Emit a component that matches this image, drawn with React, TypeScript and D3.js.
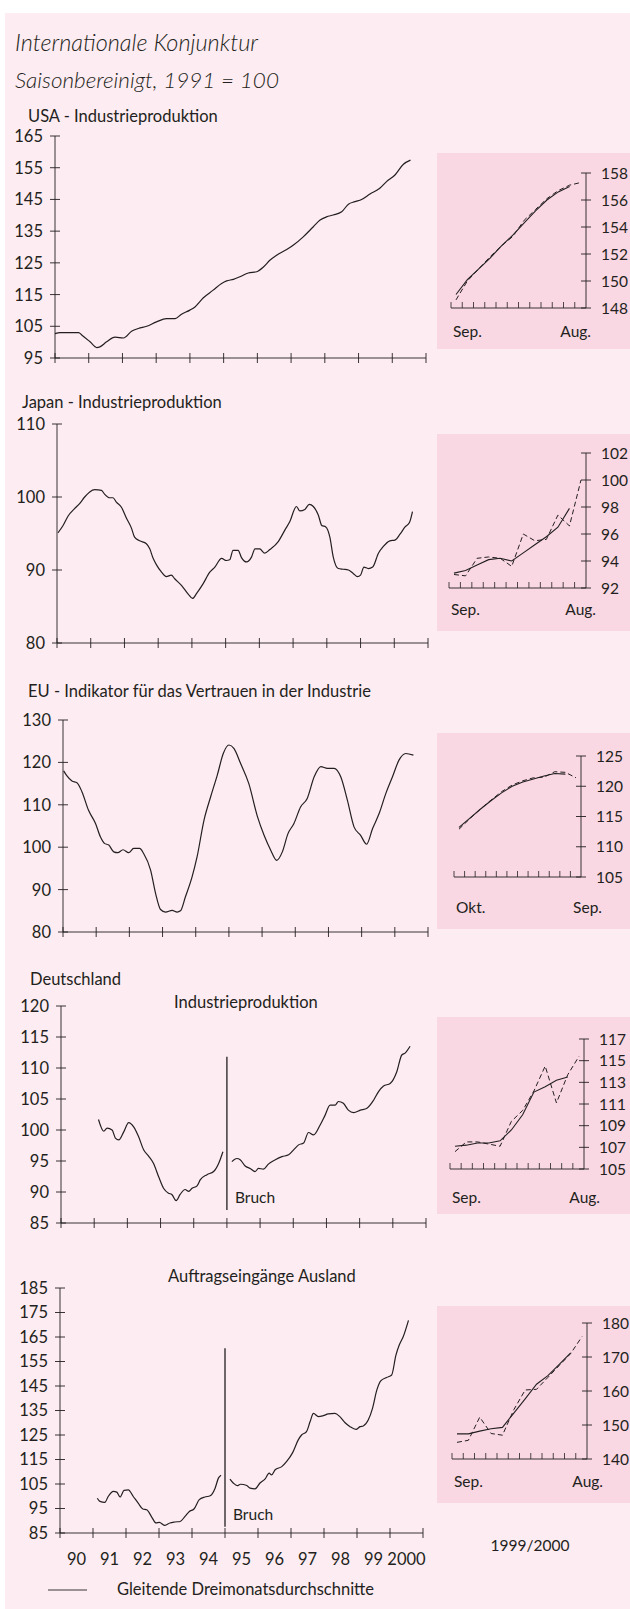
import { curveMonotoneX, line, range, scaleLinear } from 'd3'

type Point = [number, number]

// main panels: [decimal year, index value]
const usaIndustry: Point[] = [
  [1990.0, 102.7], [1990.15, 103.0], [1990.7, 103.0], [1990.8, 102.2], [1991.04, 100.1],
  [1991.24, 98.3], [1991.33, 98.5], [1991.53, 100.1], [1991.78, 101.6], [1992.03, 101.3],
  [1992.27, 103.4], [1992.47, 104.3], [1992.72, 105.0], [1993.01, 106.4], [1993.31, 107.4],
  [1993.56, 107.4], [1993.75, 108.8], [1994.0, 110.1], [1994.15, 111.1], [1994.4, 114.0],
  [1994.69, 116.4], [1994.94, 118.5], [1995.09, 119.3], [1995.29, 119.8], [1995.48, 120.6],
  [1995.73, 121.8], [1995.98, 122.2], [1996.18, 123.7], [1996.37, 125.8], [1996.57, 127.4],
  [1996.87, 129.2], [1997.07, 130.6], [1997.36, 133.2], [1997.66, 136.4], [1997.86, 138.5],
  [1998.05, 139.5], [1998.25, 140.1], [1998.5, 141.1], [1998.7, 143.5], [1998.89, 144.3],
  [1999.09, 145.0], [1999.34, 146.7], [1999.63, 148.5], [1999.83, 150.6], [2000.08, 152.7],
  [2000.33, 156.1], [2000.54, 157.4],
]

const japanIndustry: Point[] = [
  [1990.03, 95.1], [1990.18, 96.1], [1990.33, 97.4], [1990.52, 98.4], [1990.67, 99.1],
  [1990.82, 100.0], [1990.97, 100.7], [1991.12, 101.0], [1991.32, 100.9], [1991.41, 100.4],
  [1991.56, 99.9], [1991.66, 99.9], [1991.76, 99.3], [1991.91, 98.6], [1992.06, 97.1],
  [1992.21, 95.7], [1992.3, 94.5], [1992.45, 94.0], [1992.65, 93.6], [1992.75, 92.9],
  [1992.85, 91.6], [1992.95, 90.7], [1993.1, 89.7], [1993.24, 89.1], [1993.39, 89.3],
  [1993.49, 88.8], [1993.69, 87.9], [1993.89, 86.7], [1994.02, 86.1], [1994.14, 86.8],
  [1994.33, 88.1], [1994.53, 89.7], [1994.68, 90.4], [1994.88, 91.6], [1995.02, 91.3],
  [1995.12, 91.4], [1995.22, 92.7], [1995.37, 92.7], [1995.47, 91.7], [1995.62, 91.1],
  [1995.77, 91.8], [1995.87, 92.9], [1996.01, 92.9], [1996.16, 92.3], [1996.31, 92.8],
  [1996.56, 93.9], [1996.76, 95.5], [1996.9, 96.6], [1997.1, 98.7], [1997.2, 98.1],
  [1997.35, 98.3], [1997.48, 99.0], [1997.6, 98.7], [1997.75, 97.5], [1997.85, 96.1],
  [1997.97, 95.9], [1998.09, 94.5], [1998.19, 91.8], [1998.34, 90.2], [1998.49, 90.1],
  [1998.64, 90.0], [1998.79, 89.5], [1998.91, 89.1], [1999.0, 89.3], [1999.1, 90.4],
  [1999.23, 90.2], [1999.36, 90.4], [1999.53, 92.3], [1999.67, 93.2], [1999.87, 94.0],
  [2000.02, 94.1], [2000.17, 94.9], [2000.32, 95.9], [2000.45, 96.5], [2000.54, 98.0],
]

const euConfidence: Point[] = [
  [1990.02, 118.0], [1990.12, 116.8], [1990.27, 115.6], [1990.42, 115.2], [1990.57, 113.1],
  [1990.77, 108.7], [1990.98, 105.6], [1991.13, 102.4], [1991.25, 100.9], [1991.38, 100.5],
  [1991.53, 98.9], [1991.65, 98.7], [1991.81, 99.4], [1991.98, 98.7], [1992.13, 99.7],
  [1992.31, 99.7], [1992.43, 98.5], [1992.64, 94.6], [1992.79, 89.1], [1992.94, 85.3],
  [1993.09, 84.7], [1993.29, 85.1], [1993.44, 84.7], [1993.54, 85.0], [1993.69, 88.3],
  [1993.89, 93.0], [1994.04, 97.7], [1994.25, 106.4], [1994.45, 111.9], [1994.65, 117.0],
  [1994.83, 122.1], [1995.0, 124.1], [1995.15, 123.3], [1995.35, 119.8], [1995.6, 115.0],
  [1995.86, 107.2], [1996.06, 102.8], [1996.26, 99.3], [1996.44, 96.9], [1996.61, 98.9],
  [1996.78, 103.2], [1996.96, 105.6], [1997.16, 109.5], [1997.36, 111.5], [1997.57, 116.6],
  [1997.77, 119.0], [1997.97, 118.6], [1998.17, 118.6], [1998.37, 116.6], [1998.57, 111.1],
  [1998.77, 104.8], [1998.97, 102.8], [1999.15, 100.7], [1999.33, 104.4], [1999.53, 108.0],
  [1999.73, 112.7], [1999.93, 116.6], [2000.13, 120.6], [2000.33, 122.1], [2000.56, 121.7],
]

const deIndustryWest: Point[] = [
  [1991.13, 101.7], [1991.29, 99.8], [1991.39, 100.3], [1991.54, 100.0], [1991.64, 98.7],
  [1991.74, 98.4], [1991.89, 99.7], [1992.04, 101.2], [1992.19, 100.5], [1992.34, 98.9],
  [1992.49, 96.8], [1992.64, 95.8], [1992.79, 94.6], [1992.94, 92.5], [1993.09, 90.6],
  [1993.24, 89.8], [1993.34, 89.6], [1993.47, 88.6], [1993.59, 89.6], [1993.74, 90.4],
  [1993.85, 90.1], [1993.95, 90.6], [1994.1, 91.0], [1994.2, 92.0], [1994.4, 92.8],
  [1994.6, 93.3], [1994.75, 94.6], [1994.88, 96.5],
]

const deIndustryAll: Point[] = [
  [1995.15, 94.9], [1995.3, 95.4], [1995.4, 95.2], [1995.55, 94.2], [1995.7, 93.8],
  [1995.85, 93.3], [1995.95, 93.8], [1996.1, 93.7], [1996.25, 94.5], [1996.46, 95.2],
  [1996.66, 95.7], [1996.86, 96.0], [1997.01, 96.8], [1997.16, 97.6], [1997.31, 97.9],
  [1997.46, 99.6], [1997.61, 99.2], [1997.81, 100.8], [1997.96, 102.4], [1998.11, 104.0],
  [1998.26, 104.0], [1998.36, 104.6], [1998.51, 104.3], [1998.66, 103.2], [1998.82, 102.8],
  [1999.02, 103.2], [1999.22, 103.5], [1999.42, 104.8], [1999.57, 106.2], [1999.72, 107.1],
  [1999.92, 107.5], [2000.12, 109.4], [2000.27, 112.1], [2000.37, 112.4], [2000.52, 113.5],
]

const deOrdersWest: Point[] = [
  [1991.13, 99.2], [1991.21, 97.9], [1991.36, 97.5], [1991.46, 99.9], [1991.62, 102.0],
  [1991.72, 101.7], [1991.82, 99.7], [1991.94, 102.4], [1992.07, 102.6], [1992.22, 99.9],
  [1992.37, 97.2], [1992.51, 94.8], [1992.63, 94.5], [1992.78, 91.5], [1992.91, 89.1],
  [1993.01, 89.3], [1993.18, 88.1], [1993.33, 89.1], [1993.48, 89.5], [1993.64, 89.7],
  [1993.79, 91.8], [1993.92, 93.8], [1994.06, 94.8], [1994.22, 98.6], [1994.39, 99.7],
  [1994.55, 100.2], [1994.7, 103.3], [1994.8, 107.4], [1994.88, 108.6],
]

const deOrdersAll: Point[] = [
  [1995.15, 107.0], [1995.25, 105.4], [1995.37, 104.3], [1995.47, 104.9], [1995.66, 104.4],
  [1995.76, 103.3], [1995.91, 103.0], [1996.06, 105.4], [1996.21, 107.0], [1996.34, 109.4],
  [1996.41, 108.7], [1996.52, 110.8], [1996.72, 112.1], [1996.87, 114.2], [1997.05, 117.8],
  [1997.22, 123.0], [1997.32, 125.0], [1997.47, 126.4], [1997.58, 130.5], [1997.68, 133.8],
  [1997.83, 132.5], [1997.98, 132.9], [1998.13, 133.6], [1998.33, 133.8], [1998.48, 132.5],
  [1998.64, 130.0], [1998.79, 128.4], [1998.97, 127.3], [1999.09, 128.4], [1999.19, 128.7],
  [1999.34, 131.1], [1999.47, 135.9], [1999.6, 143.3], [1999.72, 147.1], [1999.9, 148.5],
  [2000.05, 149.5], [2000.18, 157.6], [2000.28, 161.7], [2000.4, 165.1], [2000.56, 171.8],
]

// insets Sep. 1999 - Aug. 2000: monthly (dashed) and 3-month average (solid)
const usaInsetMonthly = [148.6, 150.0, 150.9, 151.8, 152.6, 153.3, 154.5, 155.3, 156.1, 156.7, 157.1, 157.3]
const usaInsetAverage = [149.0, 150.1, 150.9, 151.7, 152.6, 153.4, 154.3, 155.2, 156.0, 156.6, 157.0]
const japanInsetMonthly = [93.0, 92.9, 94.2, 94.3, 94.2, 93.6, 96.0, 95.5, 95.6, 97.4, 96.6, 100.0]
const japanInsetAverage = [93.1, 93.3, 93.7, 94.1, 94.2, 94.0, 94.6, 95.2, 95.8, 96.5, 97.9]
const euInsetMonthly = [112.9, 114.6, 116.2, 117.7, 119.1, 120.2, 120.9, 121.4, 121.5, 122.4, 122.3, 121.4]
const euInsetAverage = [113.2, 114.7, 116.2, 117.6, 118.9, 120.0, 120.7, 121.2, 121.7, 122.1, 122.0]
const deInsetMonthly = [106.6, 107.5, 107.5, 107.3, 107.1, 109.4, 110.4, 112.2, 114.5, 111.1, 113.7, 115.4]
const deInsetAverage = [107.1, 107.2, 107.4, 107.4, 107.6, 108.6, 110.0, 112.1, 112.6, 113.2, 113.5]
const ordersInsetMonthly = [144.9, 145.5, 152.3, 147.5, 147.0, 154.5, 160.3, 160.5, 164.0, 167.5, 171.0, 176.0]
const ordersInsetAverage = [147.4, 147.4, 148.2, 148.9, 149.3, 153.5, 157.7, 162.0, 164.5, 167.8, 171.2]

const yearLabels = ['90', '91', '92', '93', '94', '95', '96', '97', '98', '99', '2000']

const ink = '#231f20'
const font = 'Lato, "Open Sans", sans-serif'

type Panel = {
  key: string
  title: string
  titleX: number
  titleY: number
  subtitle?: string
  subX?: number
  subY?: number
  x0: number
  x1: number
  top: number
  bottom: number
  domain: [number, number]
  step: number
  segments: Point[][]
  breakSpan?: [number, number]
  breakLabelY?: number
  yearAxis?: boolean
}

type Inset = {
  key: string
  boxTop: number
  boxBottom: number
  axisX: number
  ax0: number
  top: number
  bottom: number
  domain: [number, number]
  step: number
  monthly: number[]
  average: number[]
  left: string
  right: string
  rightEnd: number
  labelY: number
}

const panels: Panel[] = [
  {
    key: 'usa', title: 'USA - Industrieproduktion', titleX: 28, titleY: 122,
    x0: 55, x1: 426, top: 136, bottom: 358, domain: [95, 165], step: 10,
    segments: [usaIndustry],
  },
  {
    key: 'japan', title: 'Japan - Industrieproduktion', titleX: 22, titleY: 408,
    x0: 57, x1: 428, top: 424, bottom: 643, domain: [80, 110], step: 10,
    segments: [japanIndustry],
  },
  {
    key: 'eu', title: 'EU - Indikator für das Vertrauen in der Industrie', titleX: 28, titleY: 697,
    x0: 63, x1: 428, top: 720, bottom: 932, domain: [80, 130], step: 10,
    segments: [euConfidence],
  },
  {
    key: 'de', title: 'Deutschland', titleX: 30, titleY: 985,
    subtitle: 'Industrieproduktion', subX: 174, subY: 1008,
    x0: 61, x1: 426, top: 1006, bottom: 1223, domain: [85, 120], step: 5,
    segments: [deIndustryWest, deIndustryAll], breakSpan: [111.8, 87.1], breakLabelY: 1203,
  },
  {
    key: 'orders', title: '', titleX: 0, titleY: 0,
    subtitle: 'Auftragseingänge Ausland', subX: 168, subY: 1282,
    x0: 60, x1: 423, top: 1288, bottom: 1533, domain: [85, 185], step: 10,
    segments: [deOrdersWest, deOrdersAll], breakSpan: [160.4, 87.6], breakLabelY: 1520,
    yearAxis: true,
  },
]

const insets: Inset[] = [
  {
    key: 'usa', boxTop: 153, boxBottom: 349, axisX: 586, ax0: 451, top: 173, bottom: 308,
    domain: [148, 158], step: 2, monthly: usaInsetMonthly, average: usaInsetAverage,
    left: 'Sep.', right: 'Aug.', rightEnd: 591, labelY: 337,
  },
  {
    key: 'japan', boxTop: 434, boxBottom: 631, axisX: 586, ax0: 449, top: 453, bottom: 588,
    domain: [92, 102], step: 2, monthly: japanInsetMonthly, average: japanInsetAverage,
    left: 'Sep.', right: 'Aug.', rightEnd: 596, labelY: 615,
  },
  {
    key: 'eu', boxTop: 733, boxBottom: 929, axisX: 581, ax0: 454, top: 756, bottom: 877,
    domain: [105, 125], step: 5, monthly: euInsetMonthly, average: euInsetAverage,
    left: 'Okt.', right: 'Sep.', rightEnd: 602, labelY: 913,
  },
  {
    key: 'de', boxTop: 1017, boxBottom: 1214, axisX: 584, ax0: 450, top: 1039, bottom: 1169,
    domain: [105, 117], step: 2, monthly: deInsetMonthly, average: deInsetAverage,
    left: 'Sep.', right: 'Aug.', rightEnd: 600, labelY: 1203,
  },
  {
    key: 'orders', boxTop: 1306, boxBottom: 1503, axisX: 587, ax0: 452, top: 1323, bottom: 1459,
    domain: [140, 180], step: 10, monthly: ordersInsetMonthly, average: ordersInsetAverage,
    left: 'Sep.', right: 'Aug.', rightEnd: 603, labelY: 1487,
  },
]

function MainPanel({ panel }: { panel: Panel }) {
  const xScale = scaleLinear().domain([1990, 2001]).range([panel.x0, panel.x1])
  const yScale = scaleLinear().domain(panel.domain).range([panel.bottom, panel.top])
  const yTicks = range(panel.domain[0], panel.domain[1] + 0.01, panel.step)
  const xTicks = range(1990, 2002)
  const path = line<Point>()
    .x((d) => xScale(d[0]))
    .y((d) => yScale(d[1]))
    .curve(curveMonotoneX)
  const breakX = xScale(1995)

  return (
    <g>
      {panel.title && (
        <text x={panel.titleX} y={panel.titleY} fontSize={16.5}>
          {panel.title}
        </text>
      )}
      {panel.subtitle && (
        <text x={panel.subX} y={panel.subY} fontSize={16.5}>
          {panel.subtitle}
        </text>
      )}

      <line x1={panel.x0} y1={panel.top} x2={panel.x0} y2={panel.bottom} stroke={ink} strokeWidth={0.9} />
      <line x1={panel.x0} y1={panel.bottom} x2={panel.x1} y2={panel.bottom} stroke={ink} strokeWidth={0.9} />

      {yTicks.map((tick) => {
        const y = yScale(tick)
        return (
          <g key={`y-${tick}`}>
            <line x1={panel.x0 - 5} y1={y} x2={panel.x0 + 5} y2={y} stroke={ink} strokeWidth={0.9} />
            <text x={panel.x0 - 12} y={y} dy="0.36em" textAnchor="end" fontSize={16.5}>
              {tick}
            </text>
          </g>
        )
      })}

      {xTicks.map((year) => {
        const x = xScale(year)
        return (
          <line
            key={`x-${year}`}
            x1={x}
            y1={panel.bottom - 5}
            x2={x}
            y2={panel.bottom + 5}
            stroke={ink}
            strokeWidth={0.9}
          />
        )
      })}

      {panel.yearAxis &&
        yearLabels.map((label, i) => (
          <text
            key={label}
            x={xScale(1990 + i + 0.5)}
            y={1565}
            textAnchor="middle"
            fontSize={16.5}
          >
            {label}
          </text>
        ))}

      {panel.segments.map((segment, i) => (
        <path key={i} d={path(segment) ?? ''} fill="none" stroke={ink} strokeWidth={1.2} />
      ))}

      {panel.breakSpan && (
        <g>
          <line
            x1={breakX}
            y1={yScale(panel.breakSpan[0])}
            x2={breakX}
            y2={yScale(panel.breakSpan[1])}
            stroke={ink}
            strokeWidth={1.3}
          />
          <text x={breakX + 8} y={panel.breakLabelY} fontSize={15.5}>
            Bruch
          </text>
        </g>
      )}
    </g>
  )
}

function InsetChart({ inset }: { inset: Inset }) {
  const months = range(12)
  const xScale = scaleLinear().domain([0, 11]).range([inset.ax0 + 5, inset.axisX - 5])
  const yScale = scaleLinear().domain(inset.domain).range([inset.bottom, inset.top])
  const yTicks = range(inset.domain[0], inset.domain[1] + 0.01, inset.step)
  const tickStep = (inset.axisX - inset.ax0) / 12
  const path = line<number>()
    .x((_, i) => xScale(i))
    .y((d) => yScale(d))

  return (
    <g>
      <rect x={437} y={inset.boxTop} width={193} height={inset.boxBottom - inset.boxTop} fill="#f9d8e3" />
      <line x1={inset.axisX} y1={inset.top} x2={inset.axisX} y2={inset.bottom} stroke={ink} strokeWidth={0.9} />
      <line x1={inset.ax0} y1={inset.bottom} x2={inset.axisX} y2={inset.bottom} stroke={ink} strokeWidth={0.9} />

      {months.map((m) => {
        const x = inset.ax0 + m * tickStep
        return (
          <line key={m} x1={x} y1={inset.bottom} x2={x} y2={inset.bottom - 6} stroke={ink} strokeWidth={0.8} />
        )
      })}

      {yTicks.map((tick) => {
        const y = yScale(tick)
        return (
          <g key={tick}>
            <line x1={inset.axisX - 5} y1={y} x2={inset.axisX + 5} y2={y} stroke={ink} strokeWidth={0.9} />
            <text x={inset.axisX + 15} y={y} dy="0.36em" fontSize={15.5}>
              {tick}
            </text>
          </g>
        )
      })}

      <path d={path(inset.monthly) ?? ''} fill="none" stroke={ink} strokeWidth={1} strokeDasharray="5,3" />
      <path d={path(inset.average) ?? ''} fill="none" stroke={ink} strokeWidth={1.1} />

      <text x={inset.ax0 + 2} y={inset.labelY} fontSize={15.5}>
        {inset.left}
      </text>
      <text x={inset.rightEnd} y={inset.labelY} textAnchor="end" fontSize={15.5}>
        {inset.right}
      </text>
    </g>
  )
}

export default function App() {
  return (
    <svg
      width={630}
      height={1609}
      viewBox="0 0 630 1609"
      style={{ position: 'absolute', left: 0, top: 0, display: 'block' }}
      fontFamily={font}
      fill={ink}
    >
      <rect x={0} y={0} width={630} height={1609} fill="#ffffff" />
      <rect x={5} y={13} width={625} height={1596} fill="#fdecf1" />

      <text x={15} y={51} fontSize={23.5} fontStyle="italic" fontWeight={300}>
        Internationale Konjunktur
      </text>
      <text x={15} y={88} fontSize={22.5} fontStyle="italic" fontWeight={300}>
        Saisonbereinigt, 1991 = 100
      </text>

      {insets.map((inset) => (
        <InsetChart key={inset.key} inset={inset} />
      ))}

      {panels.map((panel) => (
        <MainPanel key={panel.key} panel={panel} />
      ))}

      <text x={530} y={1551} textAnchor="middle" fontSize={15.5}>
        1999/2000
      </text>

      <line x1={48} y1={1590} x2={87} y2={1590} stroke={ink} strokeWidth={0.9} />
      <text x={117} y={1595} fontSize={16.5}>
        Gleitende Dreimonatsdurchschnitte
      </text>
    </svg>
  )
}
